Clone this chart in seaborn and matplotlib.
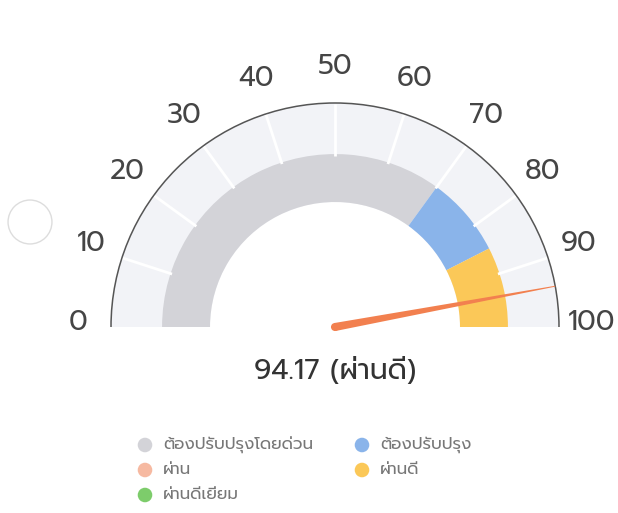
import numpy as np
import matplotlib
matplotlib.use("Agg")
import matplotlib.pyplot as plt
from matplotlib.patches import Wedge, Polygon, Circle, Arc
import seaborn as sns

# --- data ---
score = 94.17
score_label = "ผ่านดี"
categories = ["ต้องปรับปรุงโดยด่วน", "ต้องปรับปรุง", "ผ่าน", "ผ่านดี", "ผ่านดีเยี่ยม"]
band_start = [0, 70, 85, 85, 100]
band_end = [70, 85, 85, 100, 100]
colors = ["#d3d3d8", "#8ab4ea", "#f6b9a1", "#fbc858", "#7dcc6b"]
ticks = [0, 10, 20, 30, 40, 50, 60, 70, 80, 90, 100]

sns.set_theme(style="white")
plt.rcParams["font.family"] = ["Prompt", "DejaVu Sans"]

CX, CY, R = 335, 327, 224   # gauge centre / radius in pixels


def ang(v):
    # 0 on the left, 100 on the right
    return 180 - v * 1.8


def px(x, y):
    # pixel position (from top-left) -> data coords
    return (x - CX) / R, (CY - y) / R


fig = plt.figure(figsize=(6.18, 5.13), dpi=100)
ax = fig.add_axes([0, 0, 1, 1])
ax.set_xlim(-CX / R, (618 - CX) / R)
ax.set_ylim(-(513 - CY) / R, CY / R)
ax.axis("off")

# background band
ax.add_patch(Wedge((0, 0), 1.0, 0, 180, width=0.442, facecolor="#f2f3f7", edgecolor="none"))
ax.add_patch(Arc((0, 0), 2.0, 2.0, theta1=0, theta2=180, color="#555555", lw=1.1))

# coloured ranges
for s, e, c in zip(band_start, band_end, colors):
    if e > s:
        ax.add_patch(Wedge((0, 0), 0.772, ang(e), ang(s), width=0.214,
                           facecolor=c, edgecolor="none"))

# ticks + labels
for t in ticks:
    a = np.radians(ang(t))
    if 0 < t < 100:
        ax.plot([0.765 * np.cos(a), 0.995 * np.cos(a)], [0.765 * np.sin(a), 0.995 * np.sin(a)],
                color="white", lw=2.0, solid_capstyle="butt")
    ax.text(1.145 * np.cos(a), 1.145 * np.sin(a) + 0.02, str(t), ha="center", va="center",
            fontsize=20, color="#454545")

# needle
a = np.radians(ang(score))
d = np.array([np.cos(a), np.sin(a)])
n = np.array([-np.sin(a), np.cos(a)])
pts = [0.018 * n, d * 1.0 + 0.002 * n, d * 1.0 - 0.002 * n, -0.018 * n]
ax.add_patch(Polygon(pts, closed=True, facecolor="#f2804f", edgecolor="none"))
ax.add_patch(Circle((0, 0), 0.018, facecolor="#f2804f", edgecolor="none"))

ax.text(*px(335, 371), f"{score:.2f} ({score_label})", ha="center", va="center",
        fontsize=20.5, color="#333333")

# faint circle on the left of the scan
ax.add_patch(Circle(px(30, 222), 0.098, facecolor="none", edgecolor="#dddddd", lw=1))

# legend, two columns, filled row by row
col_x = [145, 362]
row_y = [445, 470, 495]
for i, (cat, c) in enumerate(zip(categories, colors)):
    x, y = col_x[i % 2], row_y[i // 2]
    ax.scatter(*px(x, y), s=110, color=c, edgecolor="none")
    ax.text(*px(x + 18, y), cat, ha="left", va="center", fontsize=12, color="#777777")

fig.savefig("out.png", dpi=100)
